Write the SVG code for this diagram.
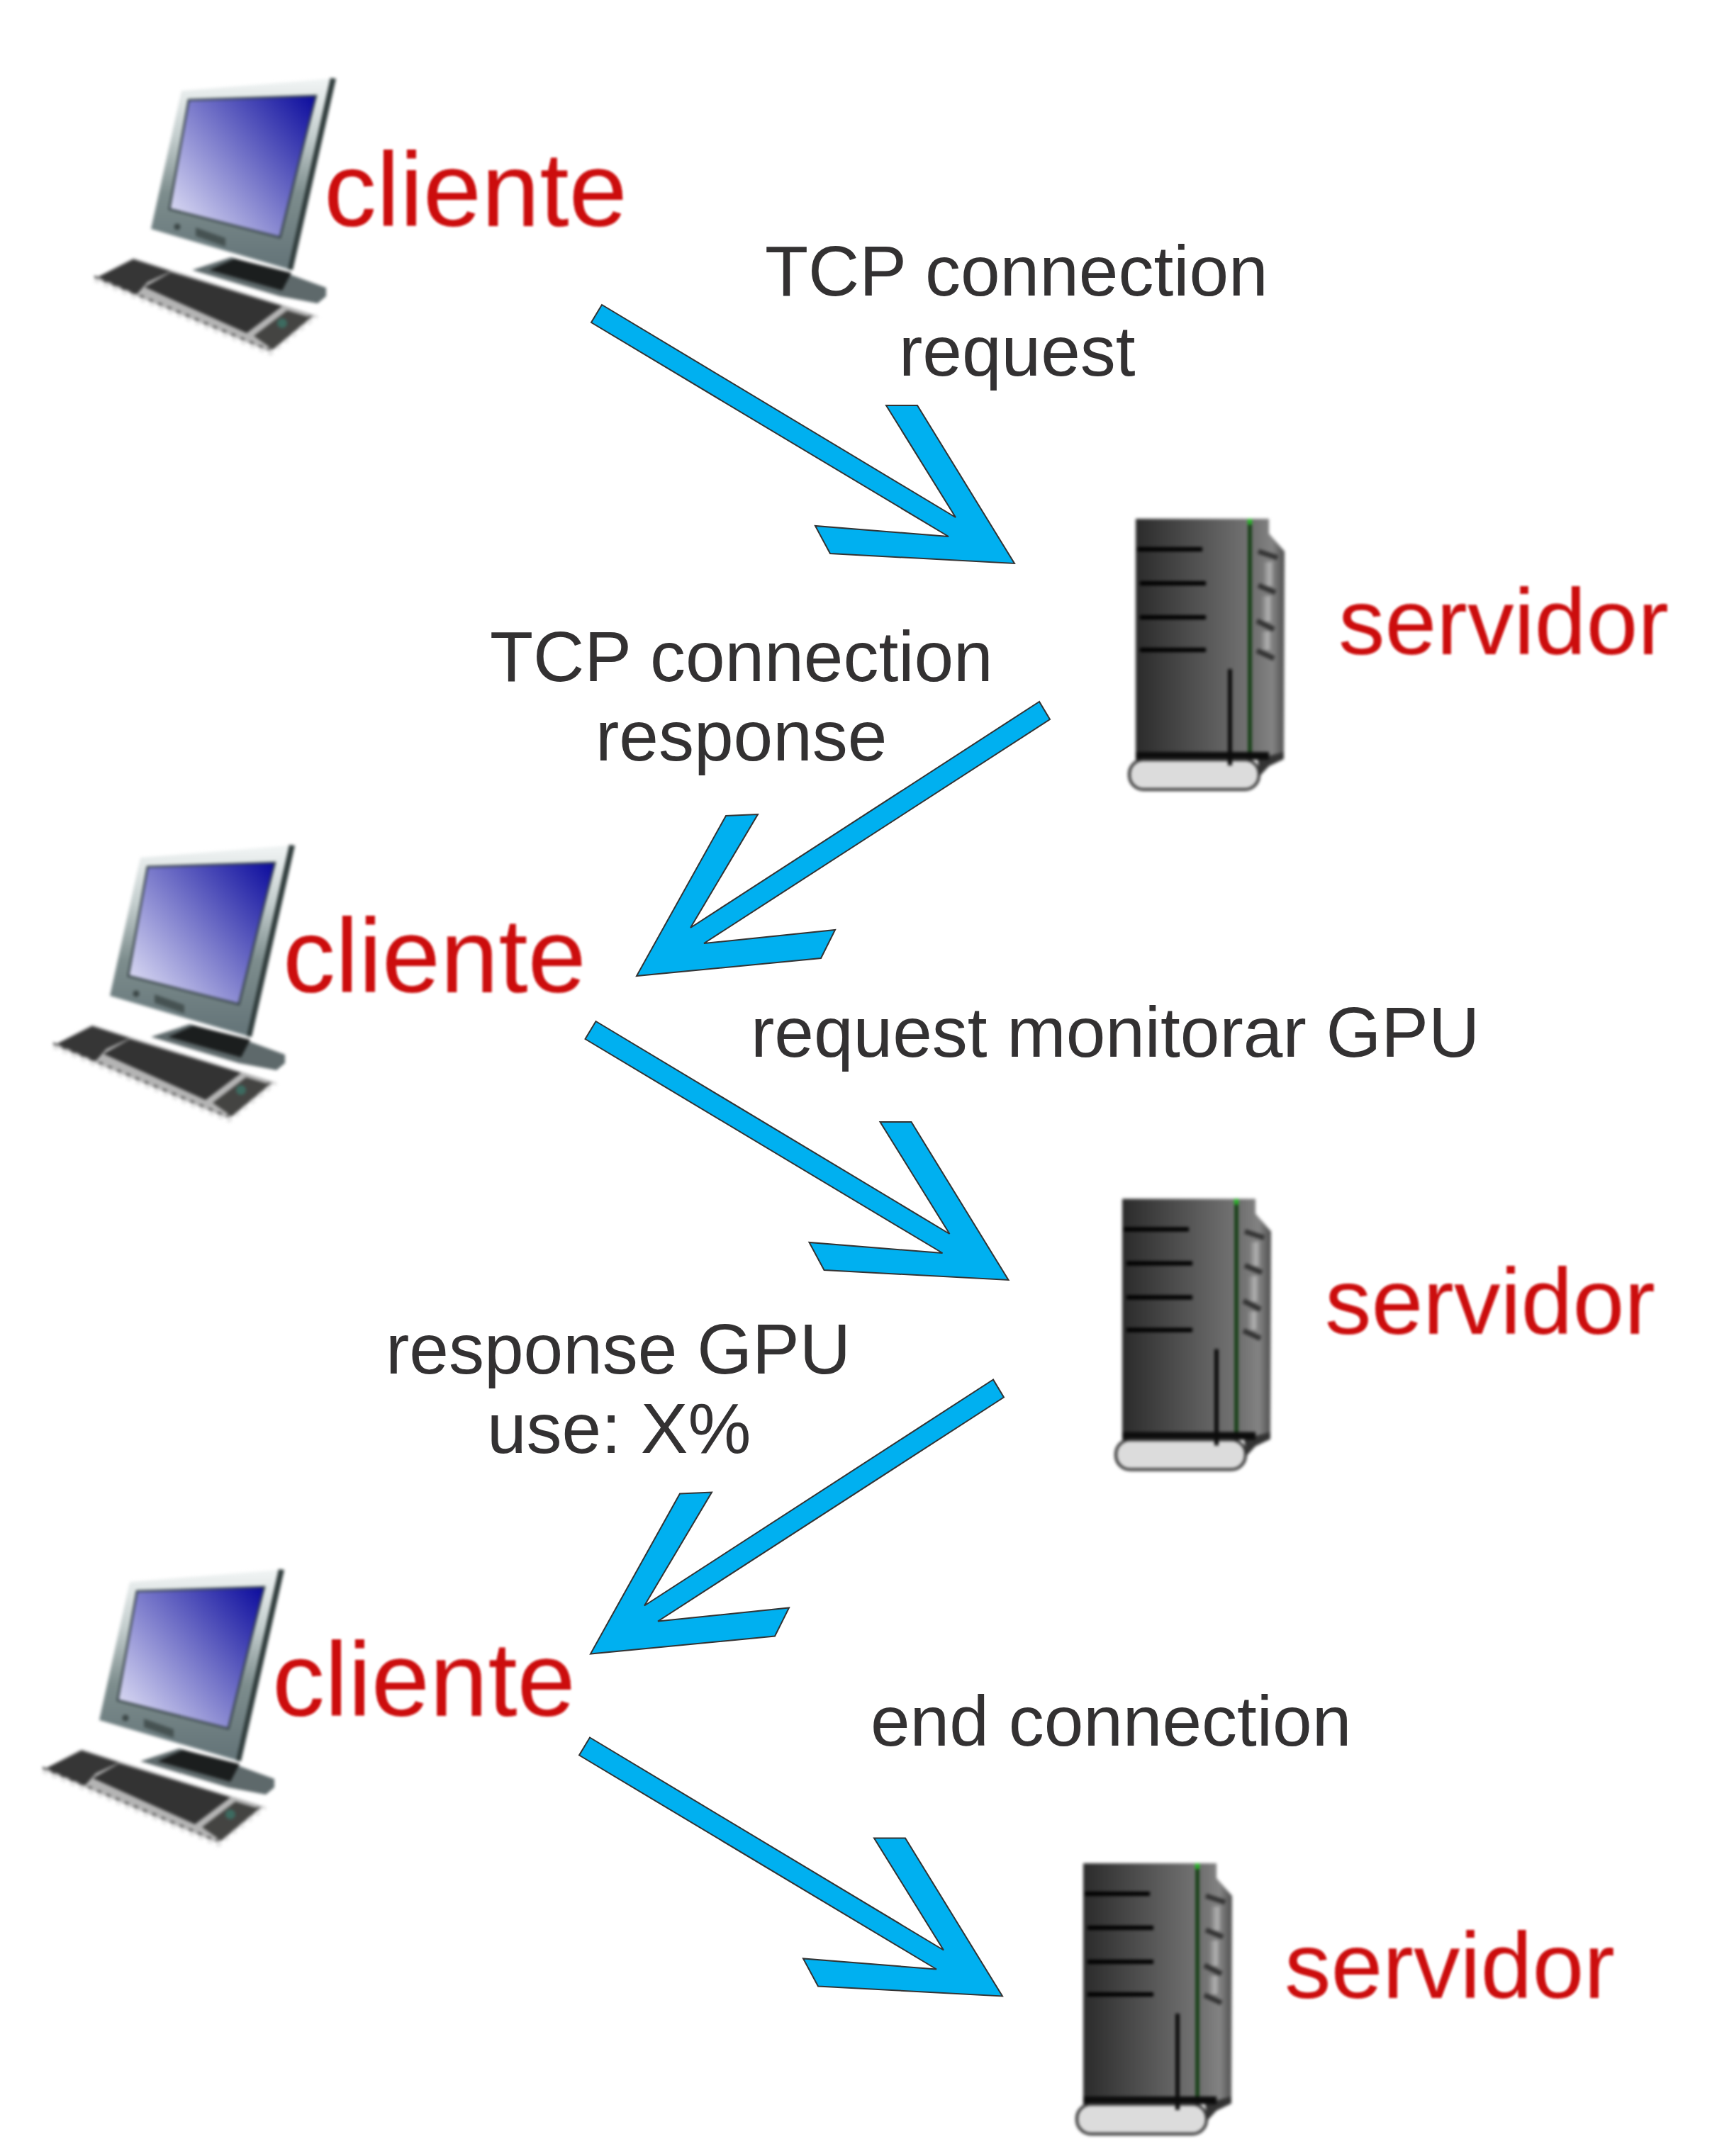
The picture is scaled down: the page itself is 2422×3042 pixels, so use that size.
<svg xmlns="http://www.w3.org/2000/svg" xmlns:xlink="http://www.w3.org/1999/xlink" width="2422" height="3042" viewBox="0 0 2422 3042">
<style>
.lbl{font-family:"Liberation Sans",Arial,sans-serif;font-size:100px;fill:#333132}
.cli{font-family:"Liberation Sans",Arial,sans-serif;font-size:148px;fill:#cc0a0a;filter:url(#soft)}
.srv{font-family:"Liberation Sans",Arial,sans-serif;font-size:131px;fill:#cc0a0a;filter:url(#soft)}
.arrow{fill:#00b0f0;stroke:#333;stroke-width:2;stroke-linejoin:miter}
</style>
<defs>
<filter id="soft" x="-5%" y="-5%" width="110%" height="110%"><feGaussianBlur stdDeviation="1.6"/></filter>
<filter id="blur" x="-5%" y="-5%" width="110%" height="110%" color-interpolation-filters="sRGB"><feGaussianBlur stdDeviation="2.2"/></filter>
<linearGradient id="frame" gradientUnits="userSpaceOnUse" x1="0" y1="1200" x2="0" y2="1450"><stop offset="0" stop-color="#eef2f2"/><stop offset=".3" stop-color="#c3cdcd"/><stop offset=".62" stop-color="#7d8d8d"/><stop offset="1" stop-color="#66767a"/></linearGradient>
<linearGradient id="screen" gradientUnits="userSpaceOnUse" x1="388" y1="1217" x2="185" y2="1385"><stop offset="0" stop-color="#0a0a9c"/><stop offset="1" stop-color="#d8d8f2"/></linearGradient>
<linearGradient id="body" x1="0" y1="0" x2="1" y2="0"><stop offset="0" stop-color="#2b2b2b"/><stop offset="1" stop-color="#737373"/></linearGradient>
<linearGradient id="side" x1="0" y1="0" x2="1" y2="0"><stop offset="0" stop-color="#6c6c6c"/><stop offset=".65" stop-color="#838383"/><stop offset="1" stop-color="#505050"/></linearGradient>
<linearGradient id="panel" x1="0" y1="0" x2="1" y2="0"><stop offset="0" stop-color="#777"/><stop offset=".6" stop-color="#b4b4b4"/><stop offset="1" stop-color="#777"/></linearGradient>
<g id="pc" filter="url(#blur)">
<polygon points="130,1446 75,1475 323,1579 388,1527 183,1463" fill="#b4b4b4"/>
<polyline points="75,1477 323,1581 390,1527" fill="none" stroke="#e6e6e6" stroke-width="6" stroke-dasharray="8 6"/>
<polyline points="75,1472 320,1575 385,1524" fill="none" stroke="#555" stroke-width="3" stroke-dasharray="6 8"/>
<polygon points="130,1448 80,1473 135,1497 150,1480 183,1465" fill="#363636"/>
<polygon points="183,1466 146,1487 290,1552 340,1514" fill="#333"/>
<polygon points="347,1520 380,1530 327,1575 300,1556" fill="#444442"/>
<circle cx="340" cy="1538" r="7" fill="#3d6a60"/>
<polygon points="213,1463 268,1445 353,1470 402,1488 402,1500 390,1510 337,1500" fill="#5e696b"/>
<polygon points="273,1447 353,1467 340,1492 237,1463" fill="#1b1e1e"/>
<polygon points="408,1193 198,1210 155,1405 353,1463" fill="url(#frame)"/>
<polygon points="408,1192 416,1193 355,1463 348,1462" fill="#2f3b3b"/>
<polygon points="208,1223 388,1217 337,1417 181,1377" fill="url(#screen)" stroke="#2f3c3e" stroke-width="2.5"/>
<circle cx="192" cy="1402" r="4.5" fill="#3b4646"/>
<polygon points="218,1403 260,1418 260,1430 218,1415" fill="#465252"/>
</g>
<g id="tower" filter="url(#blur)">
<polygon points="1689,2629 1716,2629 1716,2650 1738,2675 1737,2968 1689,2968" fill="url(#side)"/>
<rect x="1707" y="2690" width="17" height="34" fill="url(#panel)"/>
<rect x="1705" y="2738" width="17" height="36" fill="url(#panel)"/>
<rect x="1704" y="2788" width="17" height="26" fill="url(#panel)"/>
<g stroke="#333" stroke-width="7" fill="none">
<line x1="1701" y1="2675" x2="1728" y2="2684"/>
<line x1="1701" y1="2723" x2="1725" y2="2733"/>
<line x1="1699" y1="2773" x2="1723" y2="2785"/>
<line x1="1699" y1="2815" x2="1723" y2="2826"/>
</g>
<rect x="1528" y="2629" width="161" height="338" fill="url(#body)"/>
<line x1="1689" y1="2632" x2="1689" y2="2967" stroke="#0c3a0c" stroke-width="5"/>
<line x1="1689" y1="2629" x2="1689" y2="2637" stroke="#22b422" stroke-width="6"/>
<g stroke="#000" stroke-width="6">
<line x1="1530" y1="2672" x2="1622" y2="2672"/>
<line x1="1534" y1="2720" x2="1627" y2="2720"/>
<line x1="1534" y1="2768" x2="1627" y2="2768"/>
<line x1="1534" y1="2814" x2="1627" y2="2814"/>
</g>
<polygon points="1700,2968 1737,2958 1737,2968 1716,2978 1703,2992" fill="#333"/>
<rect x="1528" y="2958" width="188" height="11" fill="#0c0c0c"/>
<rect x="1519" y="2969" width="183" height="42" rx="20" fill="#dcdcdc" stroke="#333" stroke-width="4"/>
<line x1="1661" y1="2841" x2="1661" y2="2977" stroke="#0c0c0c" stroke-width="6"/>
</g>
<polygon id="arrowDown" class="arrow" points="849,430 1348,730 1250,572 1294,572 1431,795 1171,781 1150,742 1338,757 834,455"/>
<polygon id="arrowUp" class="arrow" points="1466,990 974,1309 1069,1149 1024,1151 898,1377 1158,1352 1178,1312 993,1331 1481,1015"/>
</defs>
<rect width="2422" height="3042" fill="#fff"/>
<g id="connectors">
<use href="#arrowDown"/>
<use href="#arrowUp"/>
<use href="#arrowDown" transform="translate(-8.5 1011)"/>
<use href="#arrowUp" transform="translate(-65 956.5)"/>
<use href="#arrowDown" transform="translate(-17 2021.5)"/>
</g>
<g id="cliente-1"><use href="#pc" transform="translate(58 -1082)"/><text class="cli" x="457" y="319">cliente</text></g>
<g id="servidor-1"><use href="#tower" transform="translate(74 -1897)"/><text class="srv" x="1888" y="923">servidor</text></g>
<g id="cliente-2"><use href="#pc"/><text class="cli" x="399" y="1400">cliente</text></g>
<g id="servidor-2"><use href="#tower" transform="translate(55 -937.5)"/><text class="srv" x="1869" y="1882">servidor</text></g>
<g id="cliente-3"><use href="#pc" transform="translate(-15 1022)"/><text class="cli" x="384" y="2421">cliente</text></g>
<g id="servidor-3"><use href="#tower"/><text class="srv" x="1812" y="2819">servidor</text></g>
<g id="labels">
<text class="lbl" x="1079" y="417">TCP connection</text>
<text class="lbl" x="1268" y="530">request</text>
<text class="lbl" x="691" y="961">TCP connection</text>
<text class="lbl" x="840" y="1073">response</text>
<text class="lbl" x="1059" y="1491">request monitorar GPU</text>
<text class="lbl" x="544" y="1938">response GPU</text>
<text class="lbl" x="687" y="2050">use: X%</text>
<text class="lbl" x="1228" y="2463">end connection</text>
</g>
</svg>
